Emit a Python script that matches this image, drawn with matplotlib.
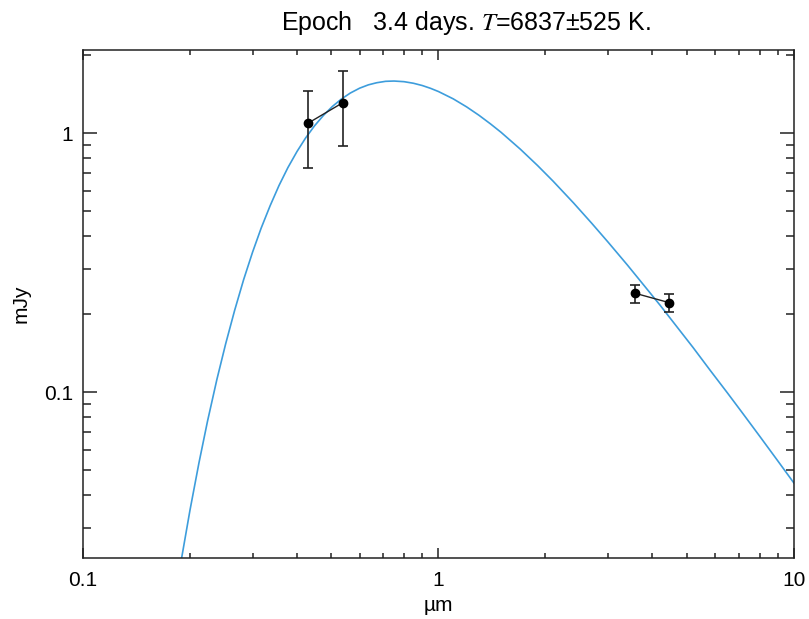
import matplotlib
matplotlib.use("Agg")
import matplotlib.pyplot as plt
from matplotlib.ticker import LogLocator, FixedLocator, NullFormatter

plt.rcParams['font.family'] = ['Liberation Sans', 'DejaVu Sans']
plt.rcParams['mathtext.fontset'] = 'stix'

# model curve (micron, mJy)
model_wl = [0.189, 0.200, 0.212, 0.224, 0.238, 0.252, 0.267, 0.283, 0.300,
            0.317, 0.336, 0.356, 0.377, 0.400, 0.423, 0.448, 0.475, 0.503,
            0.533, 0.565, 0.600, 0.635, 0.670, 0.710, 0.750, 0.800, 0.850,
            0.900, 0.950, 1.00, 1.10, 1.20, 1.30, 1.40, 1.50, 1.70, 1.90,
            2.10, 2.40, 2.70, 3.00, 3.40, 3.80, 4.20, 4.70, 5.20, 5.80,
            6.50, 7.20, 8.00, 9.00, 10.0]
model_flux = [0.0225, 0.0351, 0.0535, 0.0773, 0.112, 0.154, 0.207, 0.272,
              0.348, 0.430, 0.525, 0.629, 0.737, 0.851, 0.960, 1.069, 1.174,
              1.270, 1.356, 1.431, 1.494, 1.539, 1.568, 1.588, 1.592, 1.583,
              1.561, 1.530, 1.492, 1.450, 1.359, 1.265, 1.174, 1.088, 1.009,
              0.868, 0.751, 0.654, 0.538, 0.449, 0.380, 0.310, 0.257, 0.217,
              0.178, 0.149, 0.122, 0.0994, 0.0824, 0.0678, 0.0544, 0.0446]

# photometry
opt_wl = [0.429, 0.538]
opt_flux = [1.093, 1.313]
opt_err = [0.36, 0.42]

ir_wl = [3.58, 4.45]
ir_flux = [0.241, 0.222]
ir_err = [0.019, 0.017]

fig = plt.figure(figsize=(8.09, 6.19), dpi=100)
ax = fig.add_axes([0.1026, 0.0985, 0.8788, 0.8215])

ax.plot(model_wl, model_flux, color='#3d9ddc', lw=1.2, zorder=2)

for wl, fl, er in [(opt_wl, opt_flux, opt_err), (ir_wl, ir_flux, ir_err)]:
    ax.plot(wl, fl, color='#222222', lw=1.0, zorder=3)
    ax.errorbar(wl, fl, yerr=er, fmt='o', color='black', ecolor='#222222',
                ms=6, elinewidth=1.2, capsize=3.5, capthick=1.2, zorder=4)

ax.set_xscale('log')
ax.set_yscale('log')
ax.set_xlim(0.1, 10)
ax.set_ylim(0.0229, 2.107)

ax.xaxis.set_major_locator(FixedLocator([0.1, 1, 10]))
ax.set_xticklabels(['0.1', '1', '10'])
ax.yaxis.set_major_locator(FixedLocator([0.1, 1]))
ax.set_yticklabels(['0.1', '1'])
ax.xaxis.set_minor_locator(LogLocator(base=10, subs=range(2, 10)))
ax.yaxis.set_minor_locator(LogLocator(base=10, subs=range(2, 10)))
ax.xaxis.set_minor_formatter(NullFormatter())
ax.yaxis.set_minor_formatter(NullFormatter())

ax.tick_params(axis='both', which='both', direction='in', top=True, right=True,
               labelsize=15, width=1.1, color='#222222')
ax.tick_params(axis='x', which='major', length=7.5, pad=9)
ax.tick_params(axis='x', which='minor', length=3.3)
ax.tick_params(axis='y', which='major', length=10, pad=7)
ax.tick_params(axis='y', which='minor', length=5.5)
for s in ax.spines.values():
    s.set_linewidth(1.1)
    s.set_color('#222222')

ax.set_xlabel('µm', fontsize=15, labelpad=5)
ax.set_ylabel('mJy', fontsize=15, labelpad=10)
ax.set_title(r'Epoch   3.4 days. $\mathit{T}$=6837±525 K.', fontsize=18,
             pad=14, x=0.538)

fig.savefig('out.png', dpi=100)
